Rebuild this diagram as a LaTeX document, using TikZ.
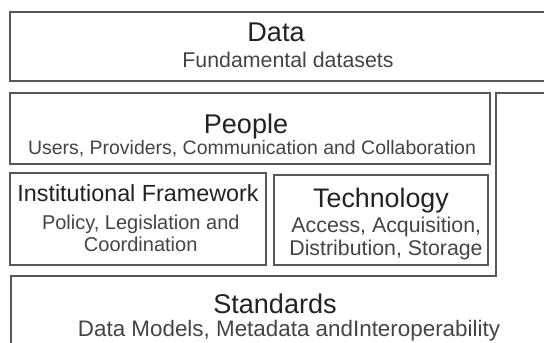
\documentclass[tikz,border=0pt]{standalone}
\usepackage{fontspec}
\setmainfont{Liberation Sans}

\definecolor{linegray}{HTML}{585858}
\definecolor{titlegray}{HTML}{222222}
\definecolor{subgray}{HTML}{444444}

\begin{document}
\begin{tikzpicture}[
    x=0.75pt, y=-0.75pt,
    layer/.style={draw=linegray, line width=1.5pt},
    title/.style={text=titlegray, inner sep=0pt, anchor=base, font=\fontsize{20.3}{24}\selectfont},
    sub/.style={text=subgray, inner sep=0pt, anchor=base, font=\fontsize{16}{19}\selectfont}
  ]
  \useasboundingbox (0,0) rectangle (544,343);
  \clip (0,0) rectangle (544,343);

  % Layer outlines
  \draw[layer] (570,11.5) -- (9.5,11.5) -- (9.5,81) -- (570,81);
  \draw[layer] (10.5,360) -- (10.5,276) -- (495.5,276) -- (495.5,93) -- (570,93);
  \draw[layer] (10,93) rectangle (490,164);
  \draw[layer] (10,172.5) rectangle (265.5,265);
  \draw[layer] (273.5,175) rectangle (488,264.5);

  % Data
  \node[title] (data) at (276,41) {Data};
  \node[sub] (datasets) at (288,67) {Fundamental datasets};

  % People
  \node[title] (people) at (246,133) {People};
  \node[sub, font=\fontsize{14.6}{17}\selectfont] (users) at (252,154) {Users, Providers, Communication and Collaboration};

  % Institutional framework and technology
  \node[title, font=\fontsize{17.5}{21}\selectfont] (inst) at (138,201) {Institutional Framework};
  \node[sub, font=\fontsize{15}{18}\selectfont] (policy) at (140.8,229) {Policy, Legislation and};
  \node[sub, font=\fontsize{15}{18}\selectfont] (coord) at (140.7,251.5) {Coordination};
  \node[title, font=\fontsize{20.1}{24}\selectfont] (tech) at (381,207) {Technology};
  \node[sub] (access) at (386.3,232.5) {Access, Acquisition,};
  \node[sub] (distrib) at (386,255) {Distribution, Storage};

  % Standards
  \node[title] (standards) at (275,313) {Standards};
  \node[sub, font=\fontsize{16.8}{20}\selectfont] (models) at (289,336) {Data Models, Metadata andInteroperability};
\end{tikzpicture}
\end{document}
